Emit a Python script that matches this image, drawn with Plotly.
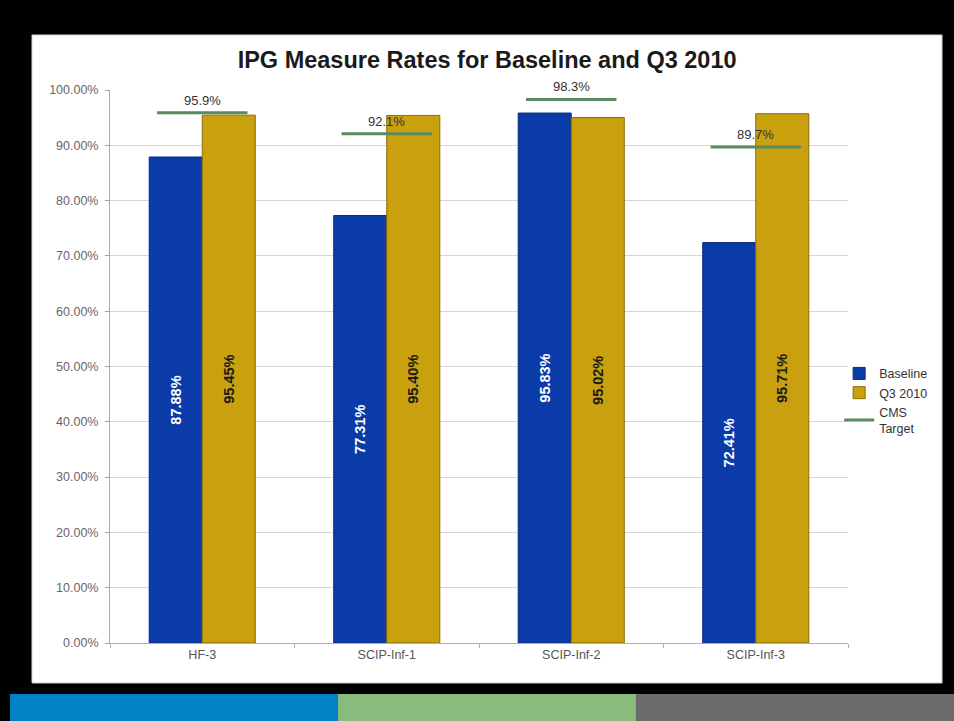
import plotly.graph_objects as go

# data
measures = ['HF-3', 'SCIP-Inf-1', 'SCIP-Inf-2', 'SCIP-Inf-3']
baseline = [87.88, 77.31, 95.83, 72.41]
q3_2010 = [95.45, 95.40, 95.02, 95.71]
cms_target = [95.9, 92.1, 98.3, 89.7]
y_ticks = [0, 10, 20, 30, 40, 50, 60, 70, 80, 90, 100]

pos = list(range(len(measures)))
half = 0.245

# target lines as short segments over each group
line_x = []
line_y = []
for i, t in zip(pos, cms_target):
    line_x += [i - half, i + half, None]
    line_y += [t, t, None]

fig = go.Figure()

fig.add_trace(go.Bar(
    x = pos,
    y = baseline,
    name = 'Baseline',
    marker_color = '#0b3ba8',
    marker_line = dict(color = '#072a80', width = 1),
    text = ['%.2f%%' % v for v in baseline],
    textposition = 'inside',
    insidetextanchor = 'middle',
    textangle = -90,
    constraintext = 'none',
    textfont = dict(family = 'Liberation Sans', size = 14.5, color = 'white', weight = 'bold'),
    ))

fig.add_trace(go.Bar(
    x = pos,
    y = q3_2010,
    name = 'Q3 2010',
    marker_color = '#c9a00e',
    marker_line = dict(color = '#8a6c06', width = 1),
    text = ['%.2f%%' % v for v in q3_2010],
    textposition = 'inside',
    insidetextanchor = 'middle',
    textangle = -90,
    constraintext = 'none',
    textfont = dict(family = 'Liberation Sans', size = 14.5, color = '#1a1a1a', weight = 'bold'),
    ))

fig.add_trace(go.Scatter(
    x = line_x,
    y = line_y,
    mode = 'lines',
    name = 'CMS<br>Target',
    line = dict(color = '#5b8a5e', width = 3),
    cliponaxis = False,
    ))

# target labels above the lines
for i, t in zip(pos, cms_target):
    fig.add_annotation(
        x = i, y = t,
        text = '%.1f%%' % t,
        showarrow = False,
        yanchor = 'bottom',
        yshift = 3,
        font = dict(family = 'Liberation Sans', size = 13, color = '#333333'),
        )

# white chart box and the colour stripes at the bottom
shapes = [
    dict(type = 'rect', xref = 'paper', yref = 'paper', x0 = -0.1057, x1 = 1.1274, y0 = -0.0723, y1 = 1.0995,
         fillcolor = 'white', line = dict(color = '#cfcfcf', width = 1), layer = 'below'),
    dict(type = 'rect', xref = 'paper', yref = 'paper', x0 = -0.1355, x1 = 0.309, y0 = -0.141, y1 = -0.0922,
         fillcolor = '#0082c6', line_width = 0, layer = 'below'),
    dict(type = 'rect', xref = 'paper', yref = 'paper', x0 = 0.309, x1 = 0.7127, y0 = -0.141, y1 = -0.0922,
         fillcolor = '#88bb7c', line_width = 0, layer = 'below'),
    dict(type = 'rect', xref = 'paper', yref = 'paper', x0 = 0.7127, x1 = 1.1436, y0 = -0.141, y1 = -0.0922,
         fillcolor = '#6b6b6e', line_width = 0, layer = 'below'),
]

fig.update_layout(
    width = 954,
    height = 721,
    margin = dict(l = 110, r = 106, t = 90, b = 78),
    paper_bgcolor = 'black',
    plot_bgcolor = 'white',
    barmode = 'group',
    bargap = 0.425,
    bargroupgap = 0,
    shapes = shapes,
    font = dict(family = 'Liberation Sans', color = '#444444'),
    title = dict(
        text = '<b>IPG Measure Rates for Baseline and Q3 2010</b>',
        x = 0.511, xref = 'paper', xanchor = 'center',
        y = 0.917, yanchor = 'middle',
        font = dict(family = 'Liberation Sans', size = 23.5, color = '#1a1a1a'),
        ),
    legend = dict(
        x = 0.988, y = 0.438, xanchor = 'left', yanchor = 'middle',
        bgcolor = 'rgba(0,0,0,0)',
        font = dict(family = 'Liberation Sans', size = 12.5, color = '#333333'),
        itemwidth = 30,
        tracegroupgap = 3,
        ),
    showlegend = True,
    )

fig.update_xaxes(
    range = [-0.5, len(measures) - 0.5],
    tickvals = pos,
    ticktext = measures,
    ticks = '',
    showgrid = False,
    zeroline = False,
    showline = True,
    linecolor = '#b0b0b0',
    tickfont = dict(size = 12.5, color = '#555555'),
    minor = dict(tickvals = [i - 0.5 for i in range(len(measures) + 1)], ticks = 'outside', ticklen = 4, tickcolor = '#b0b0b0'),
    fixedrange = True,
    )

fig.update_yaxes(
    range = [0, 100],
    tickvals = y_ticks,
    ticktext = ['%.2f%%' % v for v in y_ticks],
    ticks = 'outside',
    ticklen = 4,
    tickcolor = '#a0a0a0',
    ticklabelstandoff = 4,
    showgrid = True,
    gridcolor = '#d6d6d6',
    zeroline = False,
    showline = True,
    linecolor = '#a8a8a8',
    tickfont = dict(size = 12.5, color = '#666666'),
    fixedrange = True,
    )

fig.write_html("out.html", config = {'displayModeBar': False},
               post_script = "document.body.style.margin='0';document.body.style.overflow='hidden';")
